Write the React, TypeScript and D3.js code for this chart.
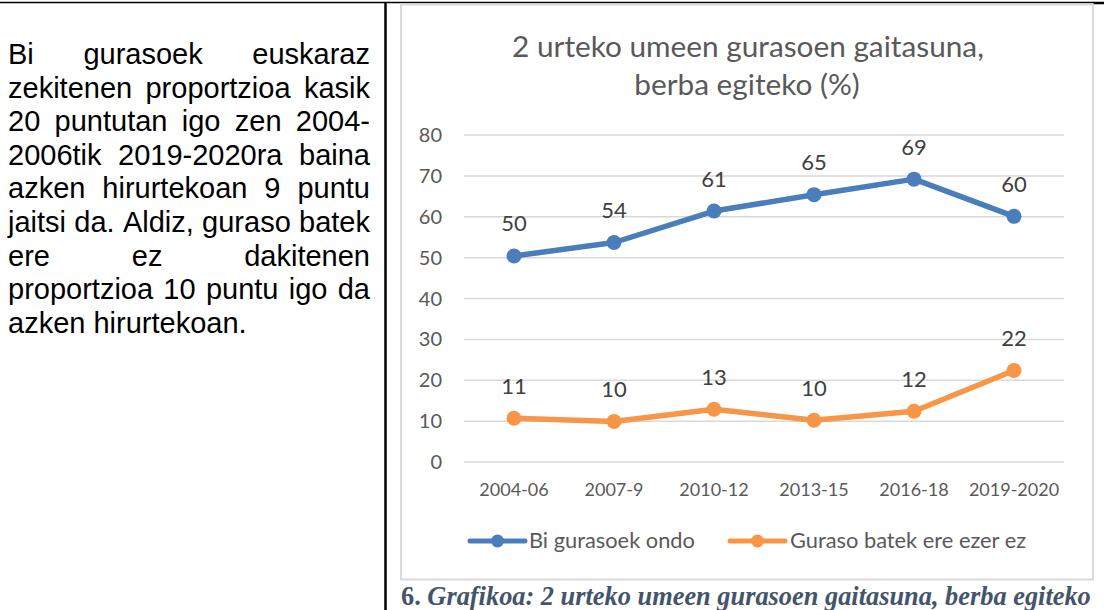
import React from 'react';
import * as d3 from 'd3';

const categories = ['2004-06', '2007-9', '2010-12', '2013-15', '2016-18', '2019-2020'];
const biGurasoek = [50.4, 53.7, 61.4, 65.4, 69.2, 60.1];
const gurasoBatek = [10.7, 9.9, 12.9, 10.2, 12.4, 22.4];
const yTicks = [0, 10, 20, 30, 40, 50, 60, 70, 80];
const seriesNames = ['Bi gurasoek ondo', 'Guraso batek ere ezer ez'];
const seriesColors = ['#4a7ebb', '#f79646'];
const titleLines = ['2 urteko umeen gurasoen gaitasuna,', 'berba egiteko (%)'];
const bodyLines = [
  'Bi gurasoek euskaraz',
  'zekitenen proportzioa kasik',
  '20 puntutan igo zen 2004-',
  '2006tik 2019-2020ra baina',
  'azken hirurtekoan 9 puntu',
  'jaitsi da. Aldiz, guraso batek',
  'ere ez dakitenen',
  'proportzioa 10 puntu igo da',
  'azken hirurtekoan.',
];
const captionNumber = '6.';
const captionText = ' Grafikoa: 2 urteko umeen gurasoen gaitasuna, berba egiteko';

let ctx: CanvasRenderingContext2D | null = null;
function measure(text: string, font: string): number {
  if (!ctx) ctx = document.createElement('canvas').getContext('2d');
  if (!ctx) return text.length * 10;
  ctx.font = font;
  return ctx.measureText(text).width;
}

const W = 1104;
const H = 610;
const GRAY = '#595959';

export default function App() {
  const x = d3.scalePoint<string>().domain(categories).range([464, 1064]).padding(0.5);
  const y = d3.scaleLinear().domain([0, 80]).range([462, 135]);
  const fmt = d3.format('.0f');
  const line = d3
    .line<number>()
    .x((_, i) => x(categories[i]) as number)
    .y((d) => y(d));

  const series = [biGurasoek, gurasoBatek];

  // body text justification
  const bodyFont = "29px 'Liberation Sans'";
  const left = 8;
  const right = 370;
  const lh = 33.6;
  const base0 = 64;

  // title size fit
  const titleSize = (472 / measure(titleLines[0], '100px Lato')) * 100;
  const legSize0 = (166 / measure(seriesNames[0], '100px Lato')) * 100;
  const legSize = Math.min(legSize0, 22);

  // caption fit
  const capW =
    measure(captionNumber, "bold 100px 'Liberation Serif'") +
    measure(captionText, "italic bold 100px 'Liberation Serif'");
  const capSize = (690 / capW) * 100;

  const legendItems = [
    { x1: 470, x2: 525, tx: 529 },
    { x1: 730, x2: 785, tx: 790 },
  ];

  return (
    <svg
      width={W}
      height={H}
      style={{ position: 'absolute', left: 0, top: 0, background: '#fff' }}
      xmlns="http://www.w3.org/2000/svg"
    >
      <rect x={0} y={0} width={W} height={H} fill="#fff" />
      {/* document borders */}
      <line x1={0} x2={1094} y1={2.5} y2={2.5} stroke="#000" strokeWidth={1.5} />
      <line x1={1093} x2={1104} y1={3} y2={3} stroke="#000" strokeWidth={2.5} />
      <line x1={385.5} x2={385.5} y1={2} y2={H} stroke="#000" strokeWidth={2.5} />

      {/* body text */}
      <g fill="#000" style={{ font: bodyFont }}>
        {bodyLines.map((ln, li) => {
          const yy = base0 + li * lh;
          const words = ln.split(' ');
          if (li === bodyLines.length - 1 || words.length < 2) {
            return (
              <text key={li} x={left} y={yy}>
                {ln}
              </text>
            );
          }
          const widths = words.map((w) => measure(w, bodyFont));
          const total = widths.reduce((a, b) => a + b, 0);
          const gap = (right - left - total) / (words.length - 1);
          let cx = left;
          return (
            <g key={li}>
              {words.map((w, wi) => {
                const px = cx;
                cx += widths[wi] + gap;
                return (
                  <text key={wi} x={px} y={yy}>
                    {w}
                  </text>
                );
              })}
            </g>
          );
        })}
      </g>

      {/* chart frame */}
      <rect x={401} y={4.5} width={692} height={575} fill="#fff" stroke="#d9d9d9" strokeWidth={2} />

      {/* title */}
      <g fill={GRAY} fontFamily="Lato" fontSize={titleSize} textAnchor="middle">
        <text x={748} y={57}>
          {titleLines[0]}
        </text>
        <text x={747} y={95}>
          {titleLines[1]}
        </text>
      </g>

      {/* gridlines */}
      <g stroke="#d9d9d9" strokeWidth={1.5}>
        {yTicks.map((t) => (
          <line key={t} x1={464} x2={1064} y1={y(t)} y2={y(t)} />
        ))}
      </g>

      {/* y tick labels */}
      <g fill={GRAY} fontFamily="Lato" fontSize={20} textAnchor="end">
        {yTicks.map((t) => (
          <text key={t} x={442} y={y(t) + 7}>
            {t}
          </text>
        ))}
      </g>

      {/* x tick labels */}
      <g fill={GRAY} fontFamily="Lato" fontSize={18} textAnchor="middle">
        {categories.map((c) => (
          <text key={c} x={x(c)} y={496}>
            {c}
          </text>
        ))}
      </g>

      {/* series */}
      {series.map((s, si) => (
        <g key={si}>
          <path d={line(s) as string} fill="none" stroke={seriesColors[si]} strokeWidth={5.5} strokeLinejoin="round" />
          {s.map((v, i) => (
            <circle key={i} cx={x(categories[i])} cy={y(v)} r={7.5} fill={seriesColors[si]} />
          ))}
          <g fill="#404040" fontFamily="Lato" fontSize={22} textAnchor="middle">
            {s.map((v, i) => (
              <text key={i} x={x(categories[i])} y={y(v) - 24.5}>
                {fmt(v)}
              </text>
            ))}
          </g>
        </g>
      ))}

      {/* legend */}
      {legendItems.map((it, i) => (
        <g key={i}>
          <line x1={it.x1} x2={it.x2} y1={541} y2={541} stroke={seriesColors[i]} strokeWidth={5} strokeLinecap="round" />
          <circle cx={(it.x1 + it.x2) / 2} cy={541} r={6.5} fill={seriesColors[i]} />
          <text x={it.tx} y={548} fill={GRAY} fontFamily="Lato" fontSize={legSize}>
            {seriesNames[i]}
          </text>
        </g>
      ))}

      {/* caption */}
      <text x={401} y={605} fill="#44546a" fontFamily="Liberation Serif" fontWeight="bold" fontSize={capSize}>
        <tspan>{captionNumber}</tspan>
        <tspan fontStyle="italic">{captionText}</tspan>
      </text>
    </svg>
  );
}
